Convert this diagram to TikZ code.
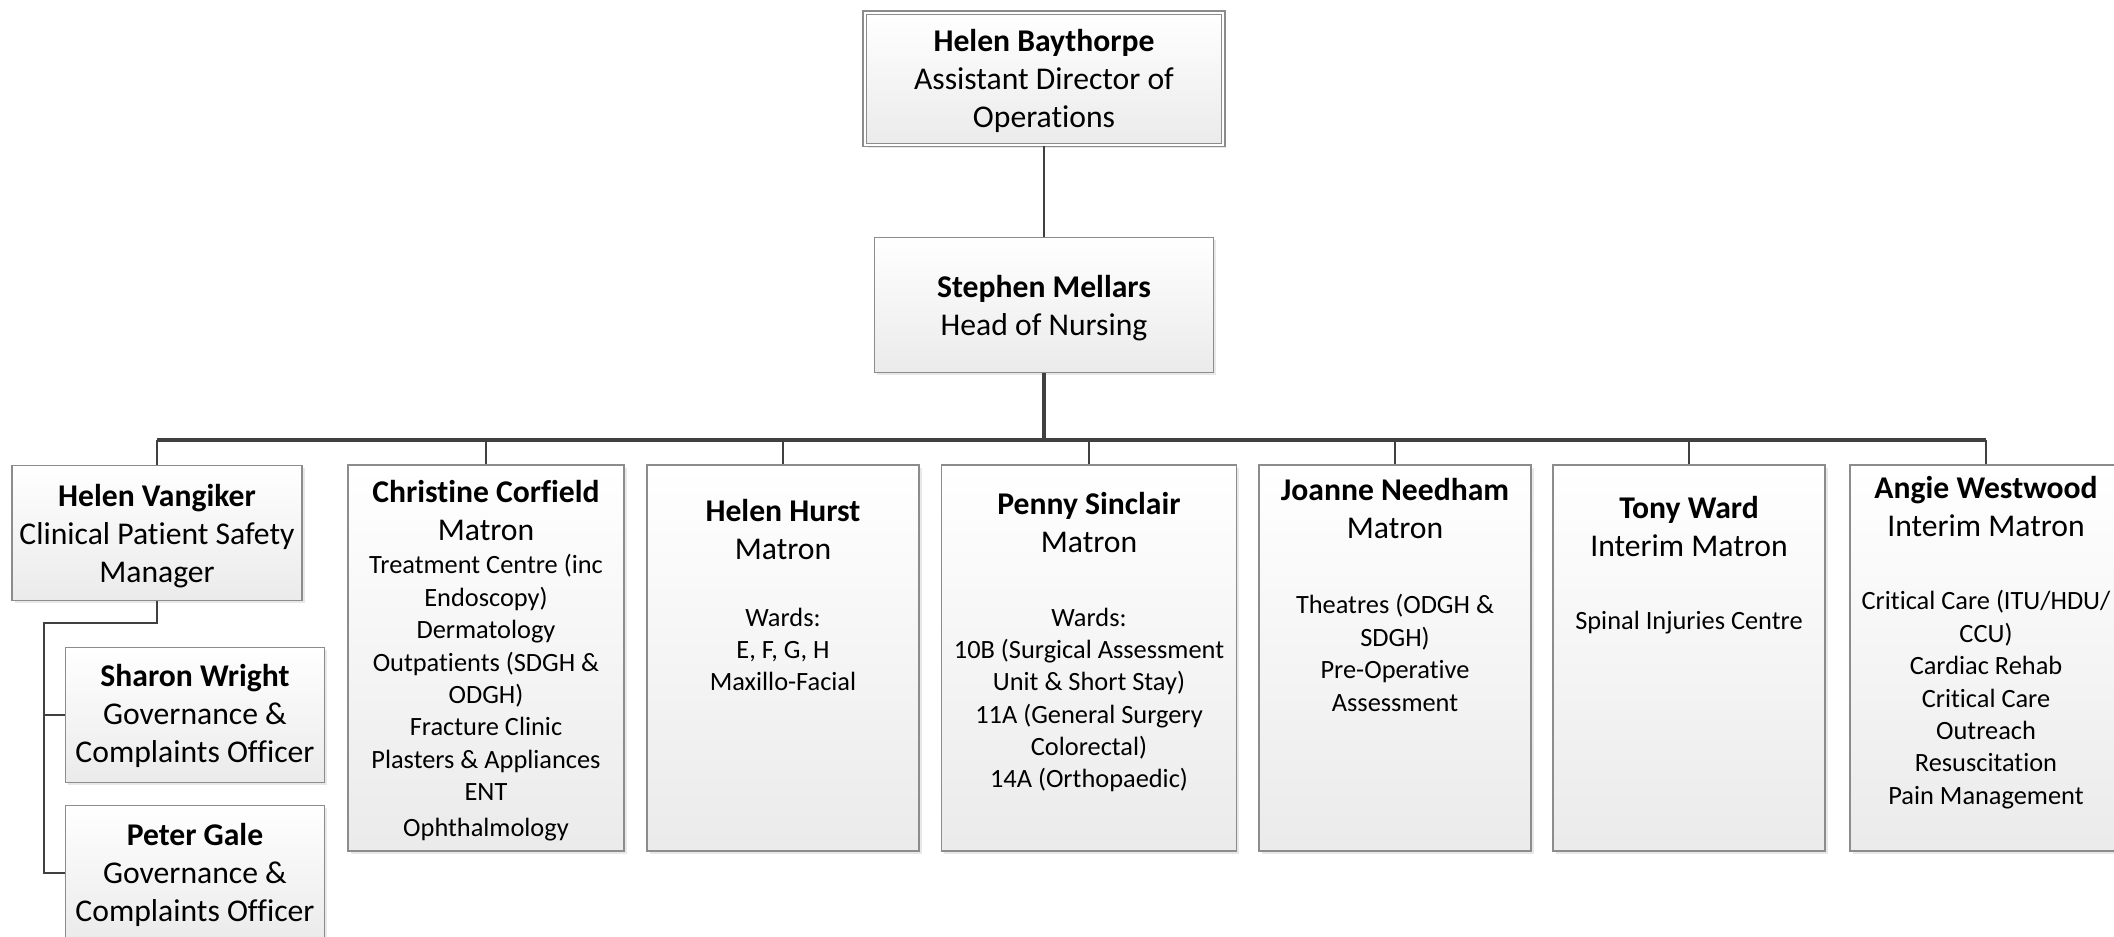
\documentclass[tikz,border=0pt]{standalone}
\usepackage{fontspec}
\setmainfont[Ligatures=NoCommon]{Carlito}
\usetikzlibrary{shadows}

\begin{document}
\begin{tikzpicture}[
                x=0.01cm,
                y=-0.01cm,
                box/.style={
                  draw=black!45,
                  line width=0.4pt,
                  top color=white,
                  bottom color=black!8,
                  drop shadow={shadow xshift=0.8pt, shadow yshift=-0.8pt, opacity=0.18},
                },
                head/.style={anchor=north, align=center, inner sep=0pt,
                  font=\fontsize{9}{10.7}\selectfont},
                body/.style={anchor=north, align=center, inner sep=0pt,
                  font=\fontsize{7.5}{9.2}\selectfont},
                link/.style={draw=black!75, line width=0.6pt},
                trunk/.style={draw=black!75, line width=0.9pt},
              ]
              \useasboundingbox (0,0) rectangle (2114,937);
              \clip (0,0) rectangle (2114,937);
              % boxes
              \node[box, double=white, double distance=0.6pt, minimum width=3.58cm, minimum height=1.32cm] (bay) at (1044,79) {};
              \node[box, minimum width=3.39cm, minimum height=1.35cm] (steph) at (1044,305) {};
              \node[box, minimum width=2.90cm, minimum height=1.35cm] (vang) at (157,533) {};
              \node[box, minimum width=2.59cm, minimum height=1.35cm] (sharon) at (195,715) {};
              \node[box, minimum width=2.59cm, minimum height=1.35cm] (peter) at (195,873) {};
              \node[box, minimum width=2.76cm, minimum height=3.86cm] (chris) at (486,658) {};
              \node[box, minimum width=2.72cm, minimum height=3.86cm] (hurst) at (783,658) {};
              \node[box, minimum width=2.95cm, minimum height=3.86cm] (penny) at (1089,658) {};
              \node[box, minimum width=2.72cm, minimum height=3.86cm] (joanne) at (1395,658) {};
              \node[box, minimum width=2.72cm, minimum height=3.86cm] (tony) at (1689,658) {};
              \node[box, minimum width=2.72cm, minimum height=3.86cm] (angie) at (1986,658) {};
              % texts
              \node[head] (baytxt) at (1044,29) {\textbf{Helen Baythorpe}\\Assistant Director of\\Operations};
              \node[head] (stephtxt) at (1044,275) {\textbf{Stephen Mellars}\\Head of Nursing};
              \node[head] (vangtxt) at (157,484) {\textbf{Helen Vangiker}\\Clinical Patient Safety\\Manager};
              \node[head] (sharontxt) at (195,664) {\textbf{Sharon Wright}\\Governance \&\\Complaints Officer};
              \node[head] (petertxt) at (195,823) {\textbf{Peter Gale}\\Governance \&\\Complaints Officer};
              \node[head] (christxt) at (486,480) {\textbf{Christine Corfield}\\Matron};
              \node[body] (chrislist) at (486,554) {Treatment Centre (inc\\Endoscopy)\\Dermatology\\Outpatients (SDGH \&\\ODGH)\\Fracture Clinic\\Plasters \& Appliances\\ENT\\[1pt]Ophthalmology};
              \node[head] (hursttxt) at (783,499) {\textbf{Helen Hurst}\\Matron};
              \node[body] (hurstlist) at (783,607) {Wards:\\E, F, G, H\\Maxillo-Facial};
              \node[head] (pennytxt) at (1089,492) {\textbf{Penny Sinclair}\\Matron};
              \node[body] (pennylist) at (1089,607) {Wards:\\10B (Surgical Assessment\\Unit \& Short Stay)\\11A (General Surgery\\Colorectal)\\14A (Orthopaedic)};
              \node[head] (joannetxt) at (1395,478) {\textbf{Joanne Needham}\\Matron};
              \node[body] (joannelist) at (1395,594) {Theatres (ODGH \&\\SDGH)\\Pre-Operative\\Assessment};
              \node[head] (tonytxt) at (1689,496) {\textbf{Tony Ward}\\Interim Matron};
              \node[body] (tonylist) at (1689,610) {Spinal Injuries Centre};
              \node[head] (angietxt) at (1986,476) {\textbf{Angie Westwood}\\Interim Matron};
              \node[body] (angielist) at (1986,590) {Critical Care (ITU/HDU/\\CCU)\\Cardiac Rehab\\Critical Care\\Outreach\\Resuscitation\\Pain Management};
              % connectors
              \coordinate (bus) at (1044,440);
              \coordinate (vsplit) at (44,623);
              \draw[link] (bay.south) -- (steph.north);
              \draw[trunk] (steph.south) -- (bus);
              \draw[trunk] (vang.north |- bus) -- (angie.north |- bus);
              \draw[link] (vang.north) -- (vang.north |- bus);
              \draw[link] (chris.north) -- (chris.north |- bus);
              \draw[link] (hurst.north) -- (hurst.north |- bus);
              \draw[link] (penny.north) -- (penny.north |- bus);
              \draw[link] (joanne.north) -- (joanne.north |- bus);
              \draw[link] (tony.north) -- (tony.north |- bus);
              \draw[link] (angie.north) -- (angie.north |- bus);
              \draw[link] (vang.south) |- (vsplit) |- (peter.west);
              \draw[link] (vsplit) |- (sharon.west);
              \end{tikzpicture}
\end{document}
